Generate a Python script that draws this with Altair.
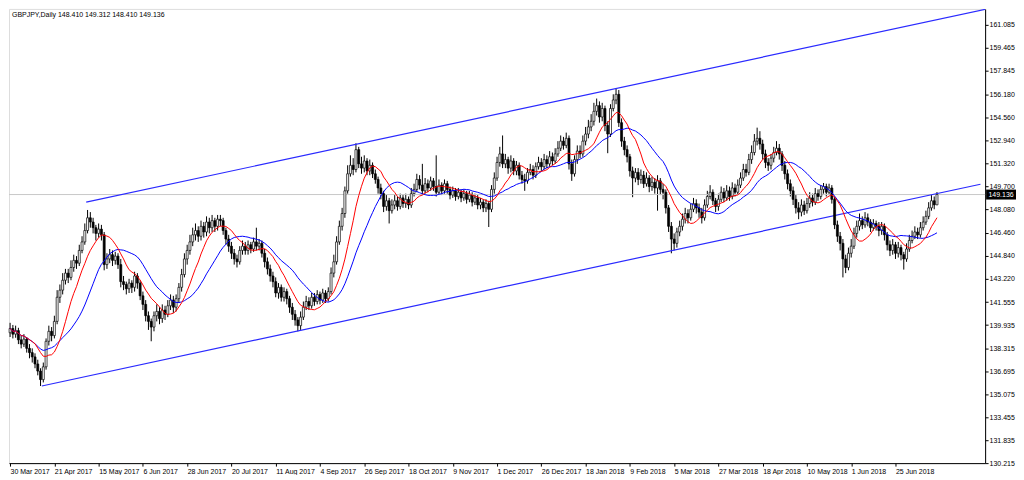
import json
import altair as alt
import pandas as pd

FONT = "Liberation Sans"

symbol_title = "GBPJPY,Daily"
bar_labels = ["30 Mar 2017", "21 Apr 2017", "15 May 2017", "6 Jun 2017", "28 Jun 2017",
              "20 Jul 2017", "11 Aug 2017", "4 Sep 2017", "26 Sep 2017", "18 Oct 2017",
              "9 Nov 2017", "1 Dec 2017", "26 Dec 2017", "18 Jan 2018", "9 Feb 2018",
              "5 Mar 2018", "27 Mar 2018", "18 Apr 2018", "10 May 2018", "1 Jun 2018",
              "25 Jun 2018"]
label_step = 16
price_ticks = [161.085, 159.465, 157.845, 156.180, 154.560, 152.940, 151.320, 149.700,
               148.080, 146.460, 144.840, 143.220, 141.555, 139.935, 138.315, 136.695,
               135.075, 133.455, 131.835, 130.215]

opens = [
    139.40, 139.70, 139.30, 139.55, 138.90, 138.60, 138.95, 138.30, 138.00, 137.70,
    137.20, 136.70, 136.10, 137.00, 138.80, 139.50, 139.20, 140.20, 141.90, 142.40,
    143.10, 143.60, 143.30, 144.00, 144.50, 144.30, 145.20, 145.80, 146.60, 147.50,
    147.20, 146.80, 146.40, 146.70, 146.30, 144.20, 144.60, 144.90, 144.50, 144.80,
    144.20, 143.00, 142.80, 142.50, 142.90, 142.60, 143.40, 142.90, 142.00, 141.40,
    140.60, 140.20, 139.80, 140.60, 140.90, 140.40, 141.00, 140.70, 141.30, 141.70,
    141.20, 141.80, 142.60, 143.50, 144.60, 145.20, 145.80, 146.30, 146.60, 146.20,
    146.90, 146.50, 147.20, 146.80, 147.30, 146.90, 147.40, 147.30, 146.60, 146.00,
    145.50, 145.00, 144.60, 144.40, 145.20, 145.50, 145.20, 145.60, 145.30, 145.80,
    145.50, 145.70, 145.00, 144.40, 143.90, 143.40, 143.00, 142.20, 142.60, 141.90,
    142.30, 141.80, 141.20, 140.70, 140.30, 139.90, 140.50, 141.20, 141.60, 141.30,
    141.90, 141.60, 142.10, 141.70, 142.20, 141.80, 142.30, 143.60, 144.40, 145.80,
    146.90, 147.80, 149.40, 150.60, 151.20, 150.90, 152.30, 151.30, 151.00, 151.50,
    150.80, 151.20, 150.60, 150.20, 149.60, 149.20, 148.30, 148.70, 148.00, 148.40,
    148.70, 148.30, 148.90, 148.50, 148.80, 148.40, 149.20, 149.50, 150.20, 149.80,
    149.40, 149.90, 149.60, 150.10, 149.70, 149.30, 149.80, 149.40, 149.90, 149.50,
    149.10, 149.40, 149.00, 149.30, 148.90, 149.20, 148.80, 149.10, 148.60, 148.90,
    148.40, 148.60, 148.20, 148.50, 148.10, 149.50, 150.30, 151.40, 152.00, 151.30,
    151.60, 151.00, 151.50, 150.80, 151.20, 150.50, 150.20, 150.10, 150.70, 150.90,
    150.50, 151.10, 151.40, 151.10, 151.60, 151.30, 151.80, 151.50, 152.00, 152.40,
    152.90, 152.60, 153.10, 151.30, 150.60, 151.60, 152.20, 152.00, 152.90, 153.40,
    153.90, 154.30, 155.00, 155.40, 154.60, 155.20, 154.00, 153.40, 155.20, 155.80,
    156.20, 154.20, 152.90, 152.30, 151.80, 150.80, 150.30, 150.70, 150.20, 150.50,
    149.90, 150.30, 149.70, 150.00, 149.60, 150.10, 149.50, 149.30, 148.20, 146.90,
    146.00, 145.70, 146.50, 146.90, 147.40, 147.80, 147.50, 148.10, 148.50, 148.20,
    147.90, 147.50, 148.40, 149.00, 149.30, 148.70, 148.30, 148.80, 149.30, 148.90,
    149.40, 149.00, 149.60, 149.30, 149.80, 150.30, 150.90, 150.70, 151.60, 152.10,
    152.90, 153.10, 152.70, 152.00, 151.40, 151.20, 151.70, 152.10, 152.40, 152.00,
    151.20, 150.60, 149.90, 149.40, 148.80, 148.20, 147.90, 148.40, 148.00, 148.50,
    148.90, 148.60, 149.20, 149.00, 149.50, 149.70, 149.30, 149.60, 148.80, 147.00,
    146.20, 145.70, 144.60, 144.00, 145.00, 145.50, 146.40, 146.90, 147.30, 147.00,
    147.50, 147.20, 146.80, 147.10, 146.90, 146.60, 146.90, 146.30, 145.60, 145.20,
    145.60, 145.00, 145.40, 144.90, 144.60, 145.30, 145.90, 146.20, 146.50, 146.30,
    146.80, 147.20, 147.60, 148.20, 148.70, 148.410,
]

highs = [
    140.10, 139.95, 139.90, 139.75, 139.20, 139.30, 139.10, 138.60, 138.30, 137.95,
    137.50, 136.90, 137.30, 139.00, 139.90, 139.80, 140.60, 142.40, 142.80, 143.60,
    143.90, 143.90, 144.50, 144.90, 144.80, 145.60, 146.20, 147.10, 148.05, 147.90,
    147.50, 147.00, 147.10, 147.00, 146.50, 145.00, 145.30, 145.20, 145.10, 145.00,
    144.60, 143.40, 143.00, 143.20, 143.10, 143.70, 143.60, 143.10, 142.30, 141.70,
    140.90, 140.40, 140.90, 141.40, 141.20, 141.40, 141.30, 141.70, 142.10, 142.00,
    142.10, 142.90, 143.90, 145.00, 145.60, 146.30, 146.80, 147.10, 146.90, 147.30,
    147.20, 147.60, 147.50, 147.70, 147.50, 147.70, 147.70, 147.50, 146.80, 146.30,
    145.80, 145.30, 144.90, 145.50, 145.90, 145.80, 145.90, 145.80, 146.10, 146.80,
    146.00, 145.90, 145.30, 144.70, 144.20, 143.70, 143.30, 142.90, 142.80, 142.60,
    142.50, 142.00, 141.50, 141.00, 140.50, 140.90, 141.60, 142.00, 141.90, 142.20,
    142.20, 142.40, 142.30, 142.50, 142.40, 142.60, 144.00, 144.90, 146.20, 147.30,
    148.20, 149.70, 151.20, 151.90, 151.70, 152.75, 152.50, 151.80, 151.90, 151.70,
    151.60, 151.40, 150.90, 150.40, 149.90, 149.40, 149.10, 148.90, 148.80, 149.10,
    149.00, 149.20, 149.10, 149.20, 149.00, 149.60, 149.90, 150.60, 150.50, 151.30,
    150.30, 150.20, 150.40, 150.30, 151.90, 150.20, 150.00, 150.20, 150.10, 149.70,
    149.70, 149.60, 149.60, 149.50, 149.50, 149.40, 149.40, 149.30, 149.20, 149.10,
    148.90, 148.80, 148.80, 148.70, 149.80, 150.70, 151.80, 152.50, 153.30, 152.00,
    151.80, 151.90, 151.70, 151.50, 151.40, 150.80, 150.60, 151.00, 151.30, 151.20,
    151.40, 151.80, 151.70, 152.00, 151.90, 152.20, 152.10, 152.40, 152.90, 153.30,
    153.20, 153.50, 153.30, 151.60, 151.90, 152.60, 152.60, 153.30, 153.90, 154.40,
    154.80, 155.60, 155.90, 155.70, 155.60, 155.40, 154.30, 155.50, 156.20, 156.60,
    156.50, 154.50, 153.20, 152.60, 152.00, 151.10, 151.00, 151.00, 150.90, 150.80,
    150.70, 150.50, 150.40, 150.30, 150.50, 150.30, 149.90, 149.50, 148.40, 147.20,
    146.40, 146.80, 147.30, 147.80, 148.20, 148.10, 148.50, 148.90, 148.80, 148.50,
    148.20, 148.80, 149.40, 149.80, 149.50, 148.90, 149.20, 149.70, 149.60, 149.80,
    149.70, 150.00, 149.90, 150.20, 150.70, 151.30, 151.30, 152.00, 152.60, 153.40,
    153.85, 153.60, 153.00, 152.30, 151.70, 152.00, 152.50, 152.90, 152.70, 152.20,
    151.50, 150.90, 150.20, 149.70, 149.10, 148.60, 148.80, 148.70, 148.90, 149.30,
    149.20, 149.60, 149.50, 149.80, 149.95, 149.90, 149.90, 149.80, 149.00, 147.30,
    146.50, 146.00, 144.90, 145.40, 146.00, 146.80, 147.30, 147.80, 147.60, 147.90,
    147.80, 147.40, 147.40, 147.30, 147.20, 147.20, 147.10, 146.50, 145.90, 146.00,
    145.80, 145.80, 145.60, 145.10, 145.70, 146.30, 146.60, 146.90, 146.80, 147.20,
    147.60, 148.00, 148.60, 149.10, 149.00, 149.312,
]

lows = [
    139.10, 139.00, 139.05, 138.60, 138.30, 138.40, 138.00, 137.60, 137.30, 136.90,
    136.40, 135.65, 135.90, 136.80, 138.50, 138.80, 139.00, 140.00, 141.50, 142.10,
    142.80, 142.90, 143.10, 143.70, 143.90, 144.10, 145.00, 145.60, 146.40, 146.80,
    146.40, 145.90, 146.10, 145.90, 143.80, 143.90, 144.30, 144.10, 144.20, 143.90,
    142.60, 142.40, 142.10, 142.20, 142.20, 142.30, 142.50, 141.70, 141.00, 140.20,
    139.60, 138.80, 139.50, 140.20, 140.00, 140.10, 140.30, 140.50, 141.00, 140.80,
    140.90, 141.50, 142.30, 143.30, 144.20, 144.90, 145.50, 145.90, 145.80, 145.90,
    146.10, 146.20, 146.40, 146.50, 146.50, 146.60, 146.90, 146.30, 145.60, 145.10,
    144.60, 144.20, 144.00, 144.20, 144.90, 144.90, 144.90, 145.00, 145.10, 145.20,
    145.20, 144.70, 144.00, 143.50, 143.00, 142.60, 141.90, 141.80, 141.60, 141.60,
    141.40, 140.80, 140.30, 139.90, 139.50, 139.60, 140.30, 141.00, 141.00, 141.10,
    141.30, 141.40, 141.40, 141.50, 141.50, 141.60, 142.10, 143.30, 144.20, 145.60,
    146.60, 147.50, 149.20, 150.40, 150.50, 150.70, 151.00, 150.60, 150.70, 150.50,
    150.50, 150.30, 149.90, 149.20, 148.80, 147.90, 148.00, 147.10, 147.80, 148.10,
    148.00, 148.10, 148.20, 148.20, 148.10, 148.20, 149.00, 149.30, 149.50, 149.10,
    149.20, 149.30, 149.40, 149.40, 149.00, 149.10, 149.10, 149.20, 149.20, 148.80,
    148.90, 148.70, 148.80, 148.60, 148.70, 148.50, 148.60, 148.30, 148.40, 148.10,
    148.10, 147.90, 147.90, 146.85, 147.90, 149.20, 150.10, 151.10, 151.00, 151.00,
    150.60, 150.70, 150.50, 150.50, 150.20, 149.90, 149.40, 149.90, 150.50, 150.20,
    150.30, 150.90, 150.80, 150.90, 151.00, 151.10, 151.20, 151.30, 151.80, 152.20,
    152.30, 152.40, 150.90, 150.10, 150.40, 151.30, 151.70, 151.80, 152.60, 153.10,
    153.60, 154.00, 154.70, 154.20, 154.30, 153.60, 152.05, 153.20, 155.00, 155.50,
    153.90, 152.50, 151.90, 151.40, 150.40, 148.95, 150.00, 149.80, 149.90, 149.60,
    149.70, 149.30, 149.40, 149.20, 148.00, 149.10, 148.80, 147.80, 146.50, 145.00,
    145.20, 145.40, 146.20, 146.60, 147.10, 147.10, 147.30, 147.90, 147.80, 147.50,
    147.10, 147.30, 148.20, 148.80, 148.40, 147.90, 148.00, 148.60, 148.60, 148.70,
    148.70, 148.80, 149.00, 149.10, 149.60, 150.10, 150.40, 150.50, 151.30, 151.90,
    152.60, 152.30, 151.60, 151.00, 150.80, 150.90, 151.40, 151.90, 151.60, 150.80,
    150.20, 149.50, 149.00, 148.40, 147.80, 147.40, 147.60, 147.70, 147.80, 148.20,
    148.30, 148.40, 148.70, 148.80, 149.20, 149.00, 149.10, 148.50, 146.70, 145.80,
    145.20, 143.30, 143.60, 143.80, 144.70, 145.30, 146.10, 146.60, 146.70, 146.80,
    146.90, 146.50, 146.60, 146.60, 146.20, 146.30, 145.90, 145.20, 144.80, 144.90,
    144.60, 144.70, 144.50, 143.85, 144.40, 145.10, 145.70, 146.00, 146.00, 146.10,
    146.60, 147.00, 147.40, 148.00, 148.10, 148.410,
]

closes = [
    139.70, 139.30, 139.55, 138.90, 138.60, 138.95, 138.30, 138.00, 137.70, 137.20,
    136.70, 136.10, 137.00, 138.80, 139.50, 139.20, 140.20, 141.90, 142.40, 143.10,
    143.60, 143.30, 144.00, 144.50, 144.30, 145.20, 145.80, 146.60, 147.50, 147.20,
    146.80, 146.40, 146.70, 146.30, 144.20, 144.60, 144.90, 144.50, 144.80, 144.20,
    143.00, 142.80, 142.50, 142.90, 142.60, 143.40, 142.90, 142.00, 141.40, 140.60,
    140.20, 139.80, 140.60, 140.90, 140.40, 141.00, 140.70, 141.30, 141.70, 141.20,
    141.80, 142.60, 143.50, 144.60, 145.20, 145.80, 146.30, 146.60, 146.20, 146.90,
    146.50, 147.20, 146.80, 147.30, 146.90, 147.40, 147.30, 146.60, 146.00, 145.50,
    145.00, 144.60, 144.40, 145.20, 145.50, 145.20, 145.60, 145.30, 145.80, 145.50,
    145.70, 145.00, 144.40, 143.90, 143.40, 143.00, 142.20, 142.60, 141.90, 142.30,
    141.80, 141.20, 140.70, 140.30, 139.90, 140.50, 141.20, 141.60, 141.30, 141.90,
    141.60, 142.10, 141.70, 142.20, 141.80, 142.30, 143.60, 144.40, 145.80, 146.90,
    147.80, 149.40, 150.60, 151.20, 150.90, 152.30, 151.30, 151.00, 151.50, 150.80,
    151.20, 150.60, 150.20, 149.60, 149.20, 148.30, 148.70, 148.00, 148.40, 148.70,
    148.30, 148.90, 148.50, 148.80, 148.40, 149.20, 149.50, 150.20, 149.80, 149.40,
    149.90, 149.60, 150.10, 149.70, 149.30, 149.80, 149.40, 149.90, 149.50, 149.10,
    149.40, 149.00, 149.30, 148.90, 149.20, 148.80, 149.10, 148.60, 148.90, 148.40,
    148.60, 148.20, 148.50, 148.10, 149.50, 150.30, 151.40, 152.00, 151.30, 151.60,
    151.00, 151.50, 150.80, 151.20, 150.50, 150.20, 150.10, 150.70, 150.90, 150.50,
    151.10, 151.40, 151.10, 151.60, 151.30, 151.80, 151.50, 152.00, 152.40, 152.90,
    152.60, 153.10, 151.30, 150.60, 151.60, 152.20, 152.00, 152.90, 153.40, 153.90,
    154.30, 155.00, 155.40, 154.60, 155.20, 154.00, 153.40, 155.20, 155.80, 156.20,
    154.20, 152.90, 152.30, 151.80, 150.80, 150.30, 150.70, 150.20, 150.50, 149.90,
    150.30, 149.70, 150.00, 149.60, 150.10, 149.50, 149.30, 148.20, 146.90, 146.00,
    145.70, 146.50, 146.90, 147.40, 147.80, 147.50, 148.10, 148.50, 148.20, 147.90,
    147.50, 148.40, 149.00, 149.30, 148.70, 148.30, 148.80, 149.30, 148.90, 149.40,
    149.00, 149.60, 149.30, 149.80, 150.30, 150.90, 150.70, 151.60, 152.10, 152.90,
    153.10, 152.70, 152.00, 151.40, 151.20, 151.70, 152.10, 152.40, 152.00, 151.20,
    150.60, 149.90, 149.40, 148.80, 148.20, 147.90, 148.40, 148.00, 148.50, 148.90,
    148.60, 149.20, 149.00, 149.50, 149.70, 149.30, 149.60, 148.80, 147.00, 146.20,
    145.70, 144.60, 144.00, 145.00, 145.50, 146.40, 146.90, 147.30, 147.00, 147.50,
    147.20, 146.80, 147.10, 146.90, 146.60, 146.90, 146.30, 145.60, 145.20, 145.60,
    145.00, 145.40, 144.90, 144.60, 145.30, 145.90, 146.20, 146.50, 146.30, 146.80,
    147.20, 147.60, 148.20, 148.70, 148.410, 149.136,
]

# Trend channel drawn on the chart: (bar index, price) end points
upper_line_bars = [27.5, 354.7]
upper_line_prices = [148.60, 162.28]
lower_line_bars = [11.45, 350.7]
lower_line_prices = [135.65, 149.86]

ma_fast = 10
ma_slow = 20

W, H = 980, 456

df = pd.DataFrame({"i": list(range(len(closes))), "open": opens, "high": highs,
                   "low": lows, "close": closes})

label_expr = "[" + ",".join(json.dumps(s) for s in bar_labels) + "][round(datum.value / %d)]" % label_step
xs = alt.Scale(domain=[-0.4, 352.4], nice=False, zero=False, padding=0)
ys = alt.Scale(domain=[130.215, 162.215], nice=False, zero=False, padding=0)

x_axis = alt.Axis(values=[k * label_step for k in range(len(bar_labels))], labelExpr=label_expr,
                  title=None, grid=False, tickSize=3, tickColor="black", domainColor="black",
                  labelAlign="left", labelPadding=1, labelFont=FONT, labelFontSize=7,
                  labelColor="black", labelOverlap=False, labelFlush=False, labelBound=False)
y_axis = alt.Axis(orient="right", values=price_ticks, format=".3f", title=None, grid=False,
                  tickSize=3, tickColor="black", domainColor="black", labelPadding=1,
                  labelFont=FONT, labelFontSize=7, labelColor="black", labelOverlap=False,
                  labelFlush=False, labelBound=False)

X = lambda f: alt.X(f, scale=xs, axis=x_axis)
Y = lambda f: alt.Y(f, scale=ys, axis=y_axis)

base = alt.Chart(df)

wicks = base.mark_rule(color="black", strokeWidth=1).encode(
    x=X("i:Q"), y=Y("low:Q"), y2="high:Q",
)

bodies = base.mark_bar(width=2, stroke="black", strokeWidth=0.7).encode(
    x=X("i:Q"), y=Y("open:Q"), y2="close:Q",
    fill=alt.condition("datum.close >= datum.open", alt.value("white"), alt.value("black")),
)

ma_red = base.transform_window(
    ma="mean(close)", frame=[-(ma_fast - 1), 0], sort=[alt.SortField("i")]
).mark_line(color="#ff0000", strokeWidth=1).encode(x=X("i:Q"), y=Y("ma:Q"))

ma_blue = base.transform_window(
    ma="mean(close)", frame=[-(ma_slow - 1), 0], sort=[alt.SortField("i")]
).mark_line(color="#0000ff", strokeWidth=1).encode(x=X("i:Q"), y=Y("ma:Q"))

ch_df = pd.DataFrame({
    "i": upper_line_bars + lower_line_bars,
    "p": upper_line_prices + lower_line_prices,
    "line": ["upper"] * len(upper_line_bars) + ["lower"] * len(lower_line_bars),
})
channel = alt.Chart(ch_df).mark_line(color="#2a2aff", strokeWidth=1.2, clip=True).encode(
    x=X("i:Q"), y=Y("p:Q"), detail="line:N"
)

last_df = pd.DataFrame({"p": [closes[-1]]})
price_rule = alt.Chart(last_df).mark_rule(color="#c8c8c8", strokeWidth=1).encode(y=Y("p:Q"))
price_tag = alt.Chart(last_df).mark_tick(orient="horizontal", thickness=10, size=30,
                                         color="black", opacity=1).encode(
    x=alt.value(W + 16), y=Y("p:Q")
)
price_txt = alt.Chart(last_df).mark_text(color="white", fontSize=7, font=FONT,
                                         align="center", baseline="middle").encode(
    x=alt.value(W + 16), y=Y("p:Q"), text=alt.Text("p:Q", format=".3f"),
)

header = "%s  %.3f %.3f %.3f %.3f" % (symbol_title, opens[-1], highs[-1], lows[-1], closes[-1])
header_txt = alt.Chart(pd.DataFrame({"t": [header]})).mark_text(
    align="left", baseline="top", fontSize=7, font=FONT, color="black"
).encode(x=alt.value(3), y=alt.value(2), text="t:N")

chart = alt.layer(
    wicks, price_rule, channel, bodies, ma_blue, ma_red, price_tag, price_txt, header_txt
).properties(
    width=W, height=H, padding={"left": 0, "top": 0, "right": 0, "bottom": 0}
).configure_view(
    stroke="black", strokeWidth=1
).configure(background="white")

chart.save("out.html", embed_options={"renderer": "svg", "actions": False})
